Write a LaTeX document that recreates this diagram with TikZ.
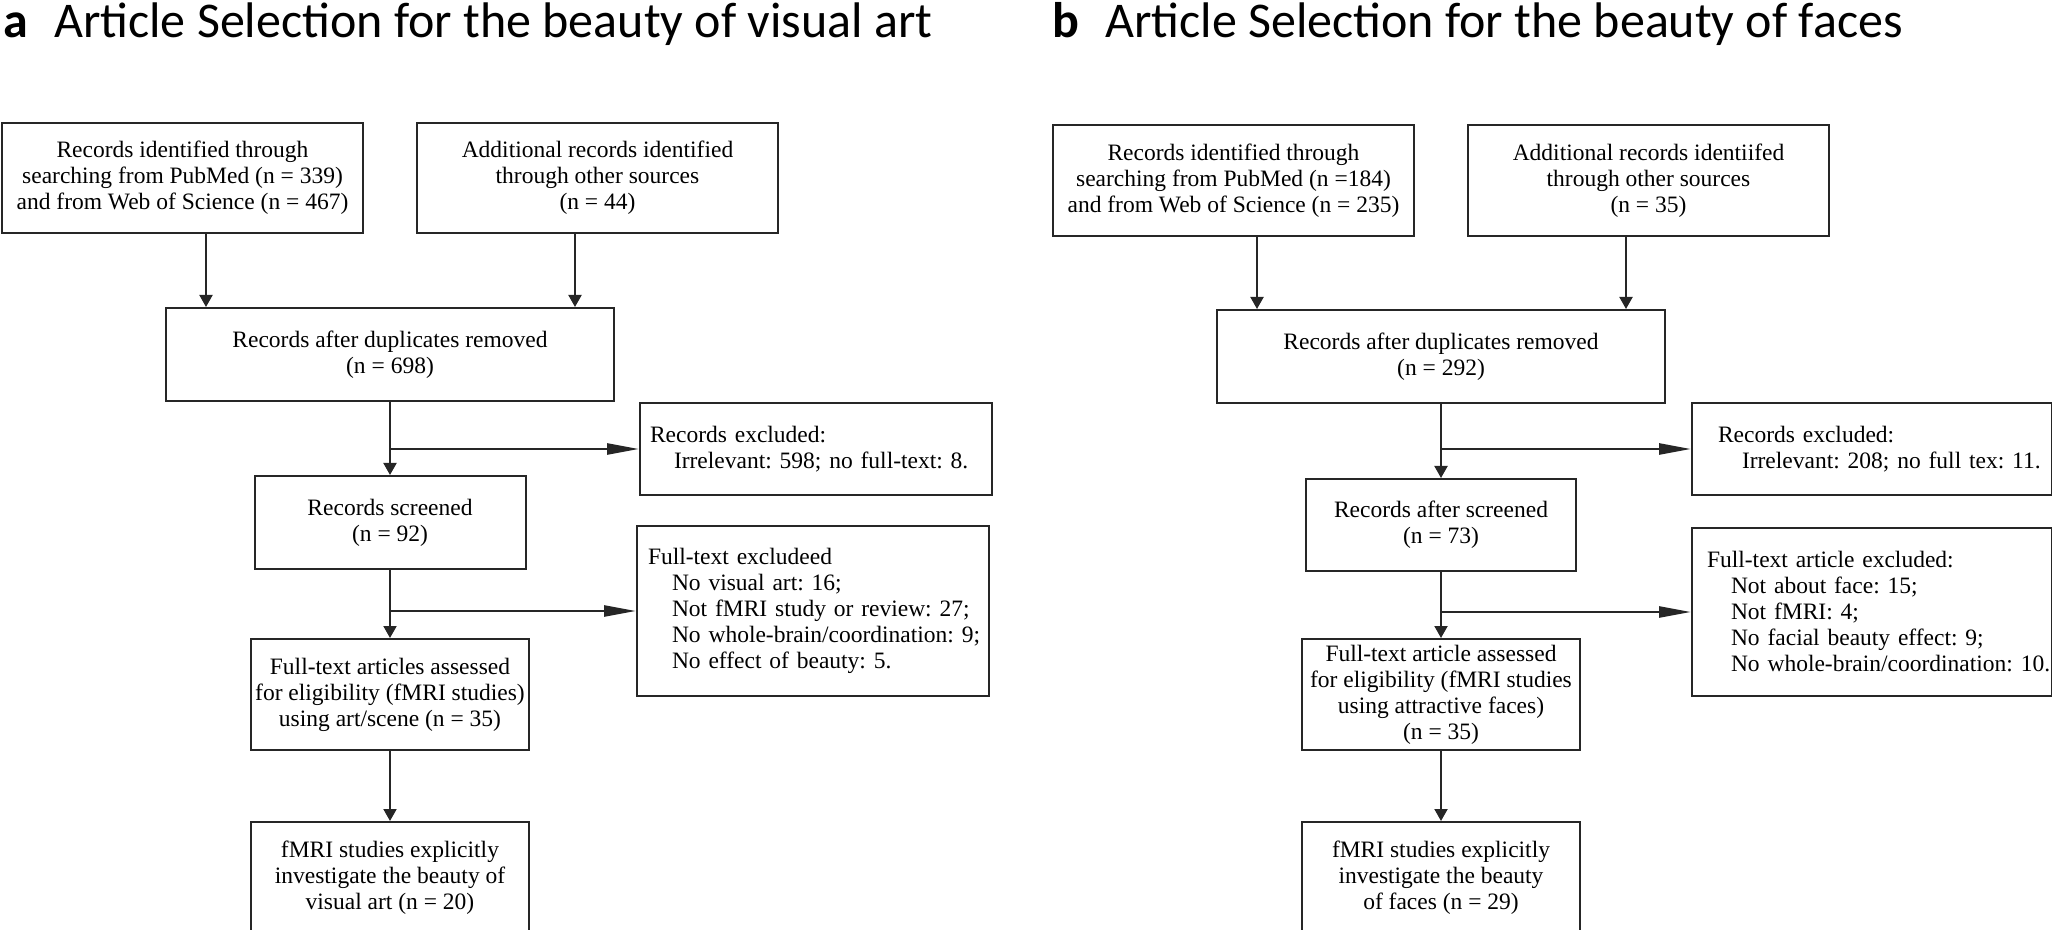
\documentclass[tikz,border=0pt]{standalone}
\usepackage{fontspec}
\setmainfont{Liberation Serif}
\newfontfamily\titlefont{Carlito}
\usepackage{tikz}
\usetikzlibrary{positioning, arrows.meta}
\frenchspacing
\newcommand{\exitem}[1]{\mbox{\hspace{12pt}#1}}

\begin{document}
\begin{tikzpicture}[
      x=0.5pt, y=-0.5pt,
      font=\fontsize{11.75pt}{13pt}\selectfont,
      every node/.style={align=center, inner sep=0pt},
      box/.style={draw=black!85, line width=1pt},
      exbox/.style={draw=black!85, line width=1pt, align=left},
      title/.style={anchor=base west, font=\titlefont\fontsize{25pt}{28pt}\selectfont},
      arrow/.style={-{Triangle[length=6pt, width=6.5pt]}, line width=1pt, draw=black!85},
      sidearrow/.style={-{Triangle[length=16pt, width=5.5pt]}, line width=1.3pt, draw=black!85}
  ]
  \useasboundingbox (0,0) rectangle (2052,930);

  % Titles ------------------------------------------------
  \node[title] (tita) at (3,38)    {\textbf{a}\hspace{13pt}Article Selection for the beauty of visual art};
  \node[title] (titb) at (1052,38) {\textbf{b}\hspace{13pt}Article Selection for the beauty of faces};

  % Nodes (a) ---------------------------------------------
  \node[box, minimum width=180.5pt, minimum height=55pt] (ida) at (182.5,178) {Records identified through\\ searching from PubMed (n = 339)\\ and from Web of Science (n = 467)};
  \node[box, minimum width=180.5pt, minimum height=55pt] (adda) at (597.5,178) {Additional records identified\\ through other sources\\ (n = 44)};
  \node[box, minimum width=224pt, minimum height=46.5pt] (dupa) at (390,354.5) {Records after duplicates removed\\ (n = 698)};
  \node[box, minimum width=135.5pt, minimum height=46.5pt, below=36.5pt of dupa] (scra) {Records screened\\ (n = 92)};
  \node[box, minimum width=139pt, minimum height=55.5pt, below=34pt of scra] (fulla) {Full-text articles assessed\\ for eligibility (fMRI studies)\\ using art/scene (n = 35)};
  \node[box, minimum width=139pt, minimum height=56pt, below=35pt of fulla] (fmria) {fMRI studies explicitly\\ investigate the beauty of\\ visual art (n = 20)};
  \node[exbox, inner xsep=5pt, text width=166pt, minimum height=46pt, below right=0pt and 12pt of dupa.south east] (rexa)
       {Records excluded:\\ \exitem{Irrelevant: 598; no full-text: 8.}};
  \node[exbox, inner xsep=5.5pt, text width=165pt, minimum height=85pt, below right=14.5pt and -1.5pt of rexa.south west] (fexa)
       {Full-text excludeed\\ \exitem{No visual art: 16;}\\ \exitem{Not fMRI study or review: 27;}\\ \exitem{No whole-brain/coordination: 9;}\\ \exitem{No effect of beauty: 5.}};

  % Nodes (b) ---------------------------------------------
  \node[box, minimum width=180.5pt, minimum height=55.5pt] (idb) at (1233.5,180.5) {Records identified through\\ searching from PubMed (n =184)\\ and from Web of Science (n = 235)};
  \node[box, minimum width=180.5pt, minimum height=55.5pt] (addb) at (1648.5,180.5) {Additional records identiifed\\ through other sources\\ (n = 35)};
  \node[box, minimum width=224pt, minimum height=46.5pt] (dupb) at (1441,356.5) {Records after duplicates removed\\ (n = 292)};
  \node[box, minimum width=135pt, minimum height=46pt, below=37pt of dupb] (scrb) {Records after screened\\ (n = 73)};
  \node[box, minimum width=139pt, minimum height=55.5pt, below=33pt of scrb] (fullb) {Full-text article assessed\\ for eligibility (fMRI studies\\ using attractive faces)\\ (n = 35)};
  \node[box, minimum width=139pt, minimum height=56pt, below=35pt of fullb] (fmrib) {fMRI studies explicitly\\ investigate the beauty\\ of faces (n = 29)};
  \node[exbox, inner xsep=13pt, text width=154pt, minimum height=46pt, below right=-1pt and 12.5pt of dupb.south east] (rexb)
       {Records excluded:\\ \exitem{Irrelevant: 208; no full tex: 11.}};
  \node[exbox, inner xsep=7.5pt, text width=165pt, minimum height=84pt, below right=15.5pt and 0pt of rexb.south west] (fexb)
       {Full-text article excluded:\\ \exitem{Not about face: 15;}\\ \exitem{Not fMRI: 4;}\\ \exitem{No facial beauty effect: 9;}\\ \exitem{No whole-brain/coordination: 10.}};

  % Arrows ------------------------------------------------
  \draw[arrow] ([xshift=11.75pt]ida.south) -- ([xshift=11.75pt]ida.south |- dupa.north);
  \draw[arrow] ([xshift=-11.25pt]adda.south) -- ([xshift=-11.25pt]adda.south |- dupa.north);
  \draw[arrow] (dupa) -- (scra);
  \draw[sidearrow] (dupa.south |- rexa.west) -- (rexa.west);   % records excluded
  \draw[arrow] (scra) -- (fulla);
  \draw[sidearrow] (scra.south |- fexa.west) -- (fexa.west);   % full-text excluded
  \draw[arrow] (fulla) -- (fmria);

  \draw[arrow] ([xshift=11.75pt]idb.south) -- ([xshift=11.75pt]idb.south |- dupb.north);
  \draw[arrow] ([xshift=-11.25pt]addb.south) -- ([xshift=-11.25pt]addb.south |- dupb.north);
  \draw[arrow] (dupb) -- (scrb);
  \draw[sidearrow] (dupb.south |- rexb.west) -- (rexb.west);
  \draw[arrow] (scrb) -- (fullb);
  \draw[sidearrow] (scrb.south |- fexb.west) -- (fexb.west);
  \draw[arrow] (fullb) -- (fmrib);
\end{tikzpicture}
\end{document}
